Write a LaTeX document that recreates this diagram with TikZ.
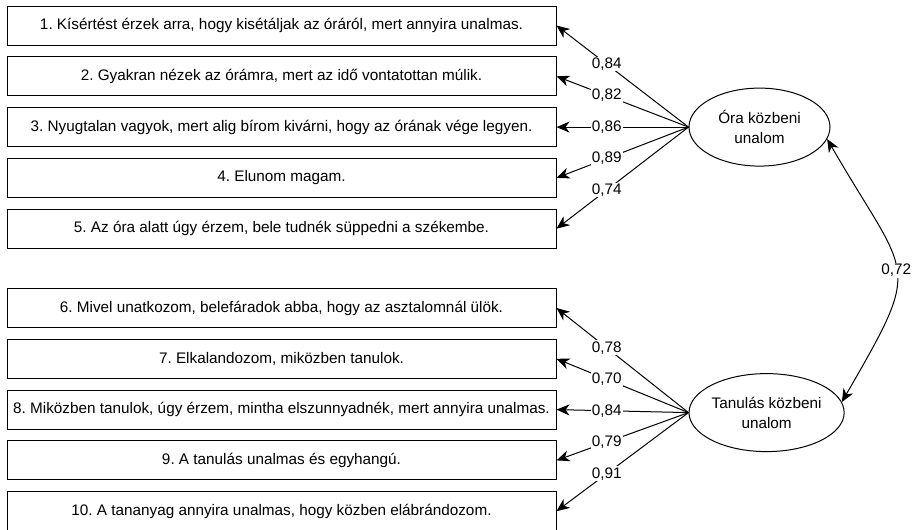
\documentclass[tikz,border=0pt]{standalone}
\usepackage{fontspec}
\setmainfont{Liberation Sans}
\frenchspacing
\usetikzlibrary{arrows.meta,positioning,shapes.geometric}

\begin{document}
\begin{tikzpicture}[x=1pt,y=1pt,>={Stealth[length=13pt,width=11pt,inset=4pt]},line width=1pt,node distance=50.8pt,
  item node/.style={draw,rectangle,minimum width=549pt,minimum height=39pt,inner sep=0pt,font=\fontsize{15.3}{18}\selectfont},
  factor node/.style={draw,ellipse,minimum width=141pt,minimum height=78pt,inner sep=0pt,align=center,font=\fontsize{15.3}{20}\selectfont},
  load/.style={fill=white,inner sep=1pt,pos=0.62,font=\fontsize{15.3}{18}\selectfont}]
  \useasboundingbox (0,0) rectangle (913,-530);
  % first factor items
  \node[item node] (1) at (281.5,-25.5) {1. Kísértést érzek arra, hogy kisétáljak az óráról, mert annyira unalmas.};
  \node[item node] (2) [below of = 1] {2. Gyakran nézek az órámra, mert az idő vontatottan múlik.};
  \node[item node] (3) [below of = 2] {3. Nyugtalan vagyok, mert alig bírom kivárni, hogy az órának vége legyen.};
  \node[item node] (4) [below of = 3] {4. Elunom magam.};
  \node[item node] (5) [below of = 4] {5. Az óra alatt úgy érzem, bele tudnék süppedni a székembe.};
  % second factor items
  \node[item node] (6) at (281.5,-308) {6. Mivel unatkozom, belefáradok abba, hogy az asztalomnál ülök.};
  \node[item node] (7) [below of = 6] {7. Elkalandozom, miközben tanulok.};
  \node[item node] (8) [below of = 7] {8. Miközben tanulok, úgy érzem, mintha elszunnyadnék, mert annyira unalmas.};
  \node[item node] (9) [below of = 8] {9. A tanulás unalmas és egyhangú.};
  \node[item node] (10) [below of = 9] {10. A tananyag annyira unalmas, hogy közben elábrándozom.};

  \node[factor node] (ora) [right=132pt of 3] {Óra közbeni\\unalom};
  \node[factor node] (tan) [right=132pt of 8, yshift=-3pt] {Tanulás közbeni\\unalom};

  \path[->]
    (ora.west) edge node[load] {0,84} (1.east)
    (ora.west) edge node[load] {0,82} (2.east)
    (ora.west) edge node[load] {0,86} (3.east)
    (ora.west) edge node[load] {0,89} (4.east)
    (ora.west) edge node[load] {0,74} (5.east)
    (tan.west) edge node[load] {0,78} (6.east)
    (tan.west) edge node[load] {0,70} (7.east)
    (tan.west) edge node[load] {0,84} (8.east)
    (tan.west) edge node[load] {0,79} (9.east)
    (tan.west) edge node[load] {0,91} (10.east)
    ;
  \path[<->] (ora.-10) edge[out=-60,in=60,looseness=1.6] node[load,pos=0.5] {0,72} (tan.8);
\end{tikzpicture}
\end{document}
